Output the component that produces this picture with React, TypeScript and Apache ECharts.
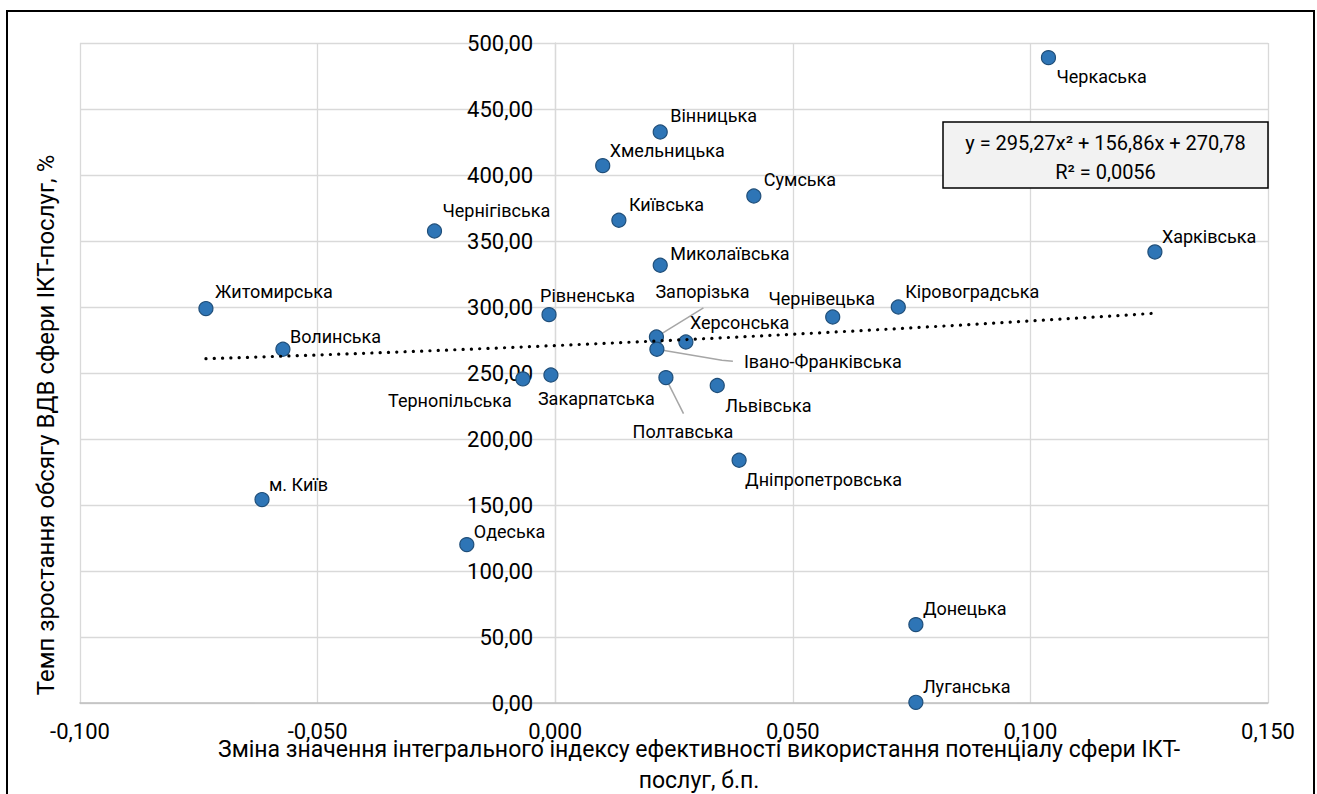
import React, { useEffect, useRef } from "react";
import * as echarts from "echarts";

// ---------- data ----------
const regions: string[] = [
  "Черкаська", "Вінницька", "Хмельницька", "Сумська", "Київська",
  "Чернігівська", "Миколаївська", "Харківська", "Житомирська", "Рівненська",
  "Чернівецька", "Кіровоградська", "Запорізька", "Херсонська", "Івано-Франківська",
  "Волинська", "Тернопільська", "Закарпатська", "Полтавська", "Львівська",
  "Дніпропетровська", "м. Київ", "Одеська", "Донецька", "Луганська",
];
const xValues: number[] = [
  0.1038, 0.0221, 0.0100, 0.0418, 0.0134,
  -0.0254, 0.0221, 0.1262, -0.0735, -0.0013,
  0.0584, 0.0722, 0.0213, 0.0275, 0.0214,
  -0.0573, -0.0068, -0.0009, 0.0233, 0.0341,
  0.0387, -0.0617, -0.0186, 0.0759, 0.0759,
];
const yValues: number[] = [
  488.9, 432.6, 407.1, 384.1, 365.7,
  357.6, 331.6, 341.7, 298.8, 294.2,
  292.4, 300.0, 277.3, 273.5, 268.0,
  268.0, 245.5, 248.5, 246.5, 240.5,
  183.9, 154.1, 120.0, 59.4, 0.5,
];

const xMin = -0.1, xMax = 0.15, xInterval = 0.05;
const yMin = 0, yMax = 500, yInterval = 50;

// polynomial trendline coefficients as printed on the chart
const trendA = 295.27, trendB = 156.86, trendC = 270.78;
const equationLine = "y = 295,27x² + 156,86x + 270,78";
const r2Line = "R² = 0,0056";

const yAxisTitle = "Темп зростання обсягу ВДВ сфери ІКТ-послуг, %";
const xAxisTitleLines = [
  "Зміна значення інтегрального індексу ефективності використання потенціалу сфери ІКТ-",
  "послуг, б.п.",
];

// ---------- label layout (pixel offsets from the marker, alignment) ----------
const labelPlacement: [number, number, string][] = [
  [8, 19, "left"], [10, -16, "left"], [7, -15, "left"], [10, -16, "left"], [10, -16, "left"],
  [8, -20, "left"], [10, -12, "left"], [7, -15, "left"], [9, -17, "left"], [-9, -19, "left"],
  [-11, -19, "center"], [7, -16, "left"], [-1, -45, "left"], [4, -19, "left"], [87, 12, "left"],
  [7, -13, "left"], [-11, 22, "right"], [-13, 24, "left"], [17, 54, "center"], [8, 20, "left"],
  [6, 19, "left"], [7, -15, "left"], [7, -13, "left"], [7, -16, "left"], [7, -16, "left"],
];
const leaderLines: Record<string, number[][]> = {
  "Запорізька": [[0, 0], [47, -29]],
  "Івано-Франківська": [[0, 0], [65, 11], [76, 12]],
  "Полтавська": [[1, 3], [17.6, 36]],
};

const FONT = "Roboto, 'Noto Sans', sans-serif";
const GRID_LEFT = 80;

export default function App() {
  const ref = useRef<HTMLDivElement>(null);

  useEffect(() => {
    if (!ref.current) return;
    const chart = echarts.init(ref.current, null, { renderer: "svg" });

    const scatterData = regions.map((name, i) => ({
      name,
      value: [xValues[i], yValues[i]],
      label: {
        offset: [labelPlacement[i][0], labelPlacement[i][1]],
        align: labelPlacement[i][2],
      },
    }));

    const dataXMin = Math.min(...xValues);
    const dataXMax = Math.max(...xValues);
    const trend: number[][] = [];
    const steps = 60;
    for (let k = 0; k <= steps; k++) {
      const x = dataXMin + ((dataXMax - dataXMin) * k) / steps;
      trend.push([x, trendA * x * x + trendB * x + trendC]);
    }

    const option: any = {
      animation: false,
      backgroundColor: "#ffffff",
      textStyle: { fontFamily: FONT },
      grid: { left: GRID_LEFT, right: 49, top: 43, bottom: 91, containLabel: false, outerBoundsMode: "none" },
      xAxis: {
        type: "value",
        min: xMin,
        max: xMax,
        interval: xInterval,
        axisLine: { show: true, onZero: false, lineStyle: { color: "#bfbfbf", width: 1.5 } },
        axisTick: { show: false },
        splitLine: { show: true, lineStyle: { color: "#d9d9d9", width: 1.3 } },
        axisLabel: {
          margin: 17,
          fontSize: 22,
          color: "#000",
          fontFamily: FONT,
          formatter: (v: number) => v.toFixed(3).replace(".", ","),
        },
      },
      yAxis: {
        type: "value",
        min: yMin,
        max: yMax,
        interval: yInterval,
        offset: 0,
        axisLine: { show: true, onZero: false, lineStyle: { color: "#d9d9d9", width: 1.3 } },
        axisTick: { show: false },
        splitLine: { show: true, lineStyle: { color: "#d9d9d9", width: 1.3 } },
        axisLabel: {
          margin: 22,
          fontSize: 22,
          color: "#000",
          fontFamily: FONT,
          formatter: (v: number) => v.toFixed(2).replace(".", ","),
        },
      },
      series: [
        {
          type: "scatter",
          z: 2,
          symbol: "circle",
          symbolSize: 14,
          itemStyle: { color: "#2E75B6", borderColor: "#1F4E79", borderWidth: 1.2, opacity: 1 },
          label: {
            show: true,
            position: "inside",
            verticalAlign: "middle",
            formatter: "{b}",
            color: "#000",
            fontSize: 18,
            fontFamily: FONT,
          },
          data: scatterData,
        },
        {
          type: "line",
          z: 3,
          data: trend,
          showSymbol: false,
          symbol: "none",
          silent: true,
          lineStyle: { color: "#000", width: 3.2, type: [0.1, 8.2], cap: "round" },
        },
      ],
    };

    chart.setOption(option);

    // place the vertical axis where x = 0 (crossing point), using the library's scale
    const zeroPx = chart.convertToPixel({ xAxisIndex: 0 }, 0) as number;
    chart.setOption({ yAxis: { offset: GRID_LEFT - zeroPx } });

    const graphics: any[] = [
      {
        type: "rect",
        shape: { x: 7, y: 11, width: 1307, height: 800 },
        style: { fill: "none", stroke: "#000", lineWidth: 2 },
        silent: true,
        z: 0,
      },
      {
        type: "rect",
        shape: { x: 943, y: 122, width: 325, height: 66 },
        style: { fill: "#f2f2f2", stroke: "#000", lineWidth: 1.5 },
        z: 10,
      },
      {
        type: "text",
        x: 1105.5,
        y: 143,
        style: { text: equationLine, fontSize: 20, fontFamily: FONT, fill: "#000", align: "center", verticalAlign: "middle" },
        z: 11,
      },
      {
        type: "text",
        x: 1105.5,
        y: 172,
        style: { text: r2Line, fontSize: 20, fontFamily: FONT, fill: "#000", align: "center", verticalAlign: "middle" },
        z: 11,
      },
      {
        type: "text",
        x: 45.5,
        y: 425,
        rotation: Math.PI / 2,
        style: { text: yAxisTitle, fontSize: 24, fontFamily: FONT, fill: "#000", align: "center", verticalAlign: "middle" },
        z: 11,
      },
      {
        type: "text",
        x: 699,
        y: 749,
        style: { text: xAxisTitleLines[0], fontSize: 23, fontFamily: FONT, fill: "#000", align: "center", verticalAlign: "middle" },
        z: 11,
      },
      {
        type: "text",
        x: 699,
        y: 780,
        style: { text: xAxisTitleLines[1], fontSize: 23, fontFamily: FONT, fill: "#000", align: "center", verticalAlign: "middle" },
        z: 11,
      },
    ];

    regions.forEach((name, i) => {
      const pts = leaderLines[name];
      if (!pts) return;
      const p = chart.convertToPixel({ seriesIndex: 0 }, [xValues[i], yValues[i]]) as number[];
      graphics.push({
        type: "polyline",
        shape: { points: pts.map(([dx, dy]) => [p[0] + dx, p[1] + dy]) },
        style: { stroke: "#a6a6a6", lineWidth: 1.5, fill: null },
        silent: true,
        z: 1,
      });
    });

    chart.setOption({ graphic: graphics });

    return () => chart.dispose();
  }, []);

  return (
    <div
      ref={ref}
      style={{ position: "fixed", left: 0, top: 0, width: 1317, height: 794, background: "#fff" }}
    />
  );
}
